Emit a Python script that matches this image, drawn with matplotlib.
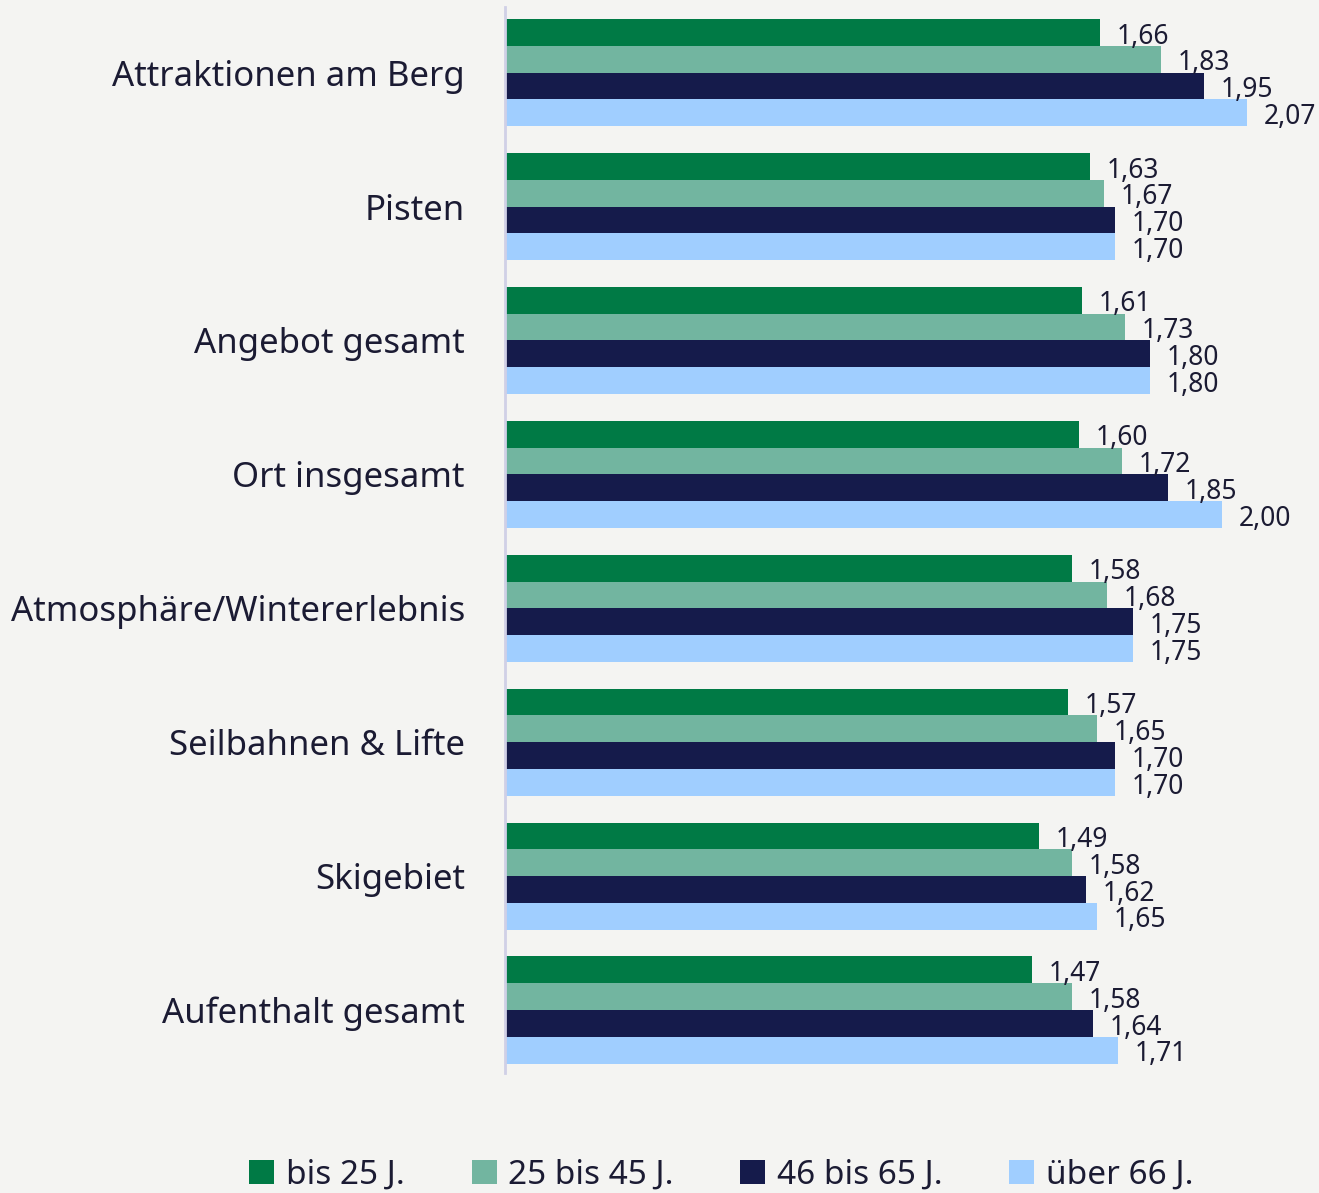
import matplotlib.pyplot as plt
import numpy as np

plt.rcParams['font.family'] = ['Noto Sans', 'DejaVu Sans']

categories = ["Attraktionen am Berg", "Pisten", "Angebot gesamt", "Ort insgesamt",
              "Atmosphäre/Wintererlebnis", "Seilbahnen & Lifte", "Skigebiet",
              "Aufenthalt gesamt"]
series_names = ["bis 25 J.", "25 bis 45 J.", "46 bis 65 J.", "über 66 J."]
bis25 = [1.66, 1.63, 1.61, 1.60, 1.58, 1.57, 1.49, 1.47]
bis45 = [1.83, 1.67, 1.73, 1.72, 1.68, 1.65, 1.58, 1.58]
bis65 = [1.95, 1.70, 1.80, 1.85, 1.75, 1.70, 1.62, 1.64]
ueber66 = [2.07, 1.70, 1.80, 2.00, 1.75, 1.70, 1.65, 1.71]
colors = ["#007A45", "#72B5A0", "#151B4B", "#A0CEFF"]

BG = "#F4F4F2"
TEXT = "#1B1B33"

fig = plt.figure(figsize=(13.19, 11.93), dpi=100, facecolor=BG)
ax = fig.add_axes([0.383, 0.1006, 0.617, 0.8935], facecolor=BG)

y = np.arange(len(categories))
h = 0.2
for i, (vals, name, c) in enumerate(zip([bis25, bis45, bis65, ueber66], series_names, colors)):
    pos = y - 0.3 + i * h
    ax.barh(pos, vals, height=h, color=c, label=name, linewidth=0)
    for p, v in zip(pos, vals):
        ax.annotate(f"{v:.2f}".replace(".", ","), (v, p), xytext=(12, -3),
                    textcoords="offset points", va="center", ha="left",
                    fontsize=19, color=TEXT)

ax.set_xlim(0, 2.27)
ax.set_ylim(7.47, -0.49)
ax.set_yticks(y)
ax.set_yticklabels(categories, fontsize=25, color=TEXT)
ax.tick_params(axis="y", length=0, pad=29)
ax.set_xticks([])
for s in ["top", "right", "bottom"]:
    ax.spines[s].set_visible(False)
ax.spines["left"].set_color("#D0D0E6")
ax.spines["left"].set_linewidth(2)

handles, labels = ax.get_legend_handles_labels()
leg = fig.legend(handles, labels, loc="lower center", ncol=4, bbox_to_anchor=(0.547, -0.024),
                 frameon=False, fontsize=24, handlelength=0.75, handleheight=0.75,
                 handletextpad=0.35, columnspacing=2.0)
for t in leg.get_texts():
    t.set_color(TEXT)

fig.savefig("out.png", dpi=100, facecolor=BG)
